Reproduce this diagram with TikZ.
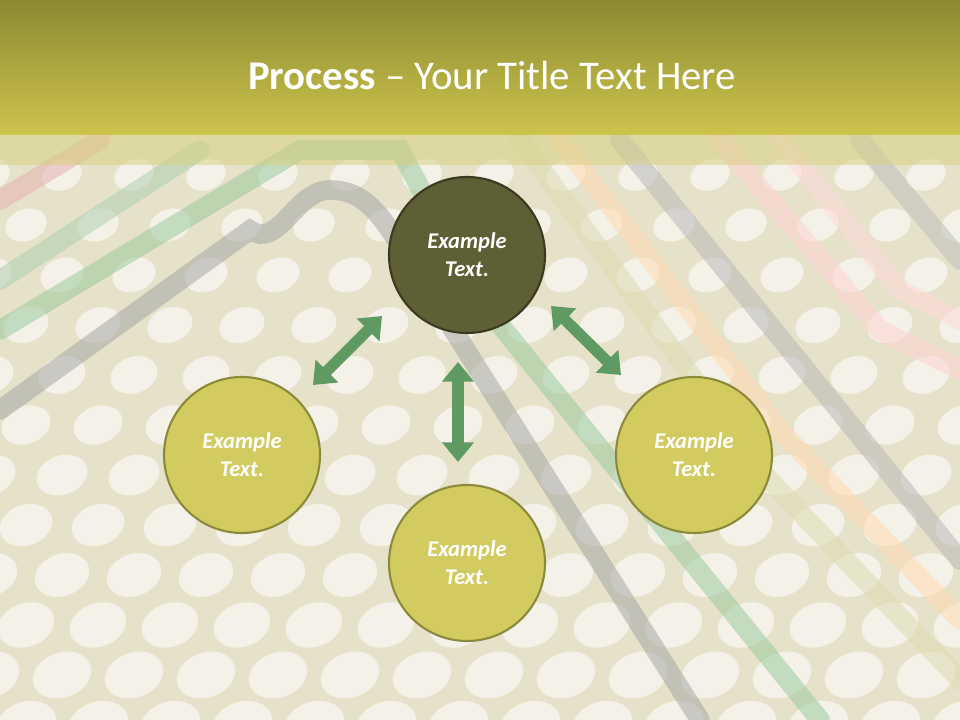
\documentclass[tikz,border=0pt]{standalone}
\usepackage{fontspec}
\setmainfont{Carlito}
\usetikzlibrary{arrows.meta}
\definecolor{bg}{HTML}{E6E2CA}
\definecolor{dot}{HTML}{F4F2E8}
\definecolor{dark}{HTML}{5F5F35}
\definecolor{darkb}{HTML}{3A3A20}
\definecolor{lite}{HTML}{D2CB60}
\definecolor{liteb}{HTML}{8C8A3A}
\definecolor{arr}{HTML}{5F9A63}
\definecolor{ttop}{HTML}{8A8A32}
\definecolor{tbot}{HTML}{CEC44C}
\begin{document}
\begin{tikzpicture}[x=0.025cm,y=-0.025cm,
  circ/.style={circle,minimum size=156*0.025cm,line width=1.5pt,font=\bfseries\itshape\fontsize{16}{20}\selectfont,text=white,align=center},
  darkc/.style={circ,fill=dark,draw=darkb},
  litec/.style={circ,fill=lite,draw=liteb},
  dbl/.style={arr,line width=8pt,{Triangle[width=22pt,length=14pt]}-{Triangle[width=22pt,length=14pt]}},
  stripe/.style={line width=14pt,line cap=round,opacity=0.55}]
\useasboundingbox (0,0) rectangle (960,720);
\fill[bg] (0,0) rectangle (960,720);
\begin{scope}
\clip (0,135) rectangle (960,720);
\foreach \i in {0,...,13}{
  \foreach \j in {0,...,11}{
    \pgfmathsetmacro\xx{\i*72+mod(\j,2)*36-10}
    \pgfmathsetmacro\yy{175+\j*50}
    \pgfmathsetmacro\sc{0.6+0.5*(\yy/720)}
    \fill[dot,rotate around={20:(\xx,\yy)}] (\xx,\yy) ellipse ({28*\sc} and {21*\sc});
  }}
\draw[stripe,color=gray!70] (0,410) -- (250,230) to[out=-35,in=180] (330,190) to[out=0,in=125] (390,230) -- (700,720);
\draw[stripe,color=green!30!gray!60] (0,330) -- (300,150) -- (400,150) -- (480,300) -- (820,720);
\draw[stripe,color=green!25!gray!50] (0,280) -- (200,150);
\draw[stripe,color=pink!80!gray] (0,200) -- (100,140);
\draw[stripe,color=gray!55] (620,140) -- (960,560);
\draw[stripe,color=orange!30] (560,140) -- (780,430) -- (960,620);
\draw[stripe,color=yellow!40!gray!50] (520,140) -- (760,470) -- (960,680);
\draw[stripe,color=pink!70] (720,140) -- (880,330) -- (960,370);
\draw[stripe,color=pink!60] (780,140) -- (900,290) -- (960,320);
\draw[stripe,color=gray!50] (860,140) -- (960,260);
\end{scope}
\shade[top color=ttop,bottom color=tbot] (0,0) rectangle (960,135);
\fill[tbot!60!bg,opacity=0.5] (0,135) rectangle (960,165);
\node[text=white,font=\fontsize{29}{34}\selectfont] (title) at (492,75) {\textbf{Process} -- Your Title Text Here};
\node[darkc] (top) at (467,255) {Example\\Text.};
\node[litec] (left) at (242,455) {Example\\Text.};
\node[litec] (bottom) at (467,563) {Example\\Text.};
\node[litec] (right) at (694,455) {Example\\Text.};
\coordinate (a1) at (313,385); \coordinate (a2) at (382,316);
\coordinate (b1) at (551,306); \coordinate (b2) at (621,375);
\coordinate (c1) at (458,362); \coordinate (c2) at (458,462);
\draw[dbl] (a1) -- (a2);
\draw[dbl] (b1) -- (b2);
\draw[dbl] (c1) -- (c2);
\end{tikzpicture}
\end{document}
